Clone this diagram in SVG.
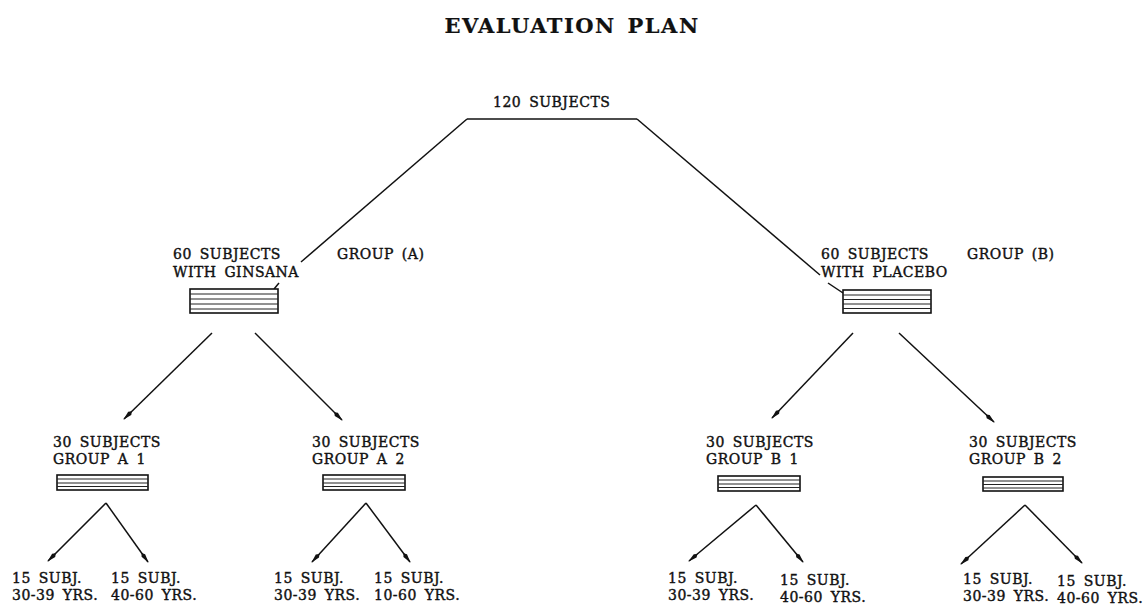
<svg xmlns="http://www.w3.org/2000/svg" width="1144" height="608" viewBox="0 0 1144 608">
<style>
text{font-family:"DejaVu Serif","Liberation Serif",serif;fill:#111;font-size:14px;stroke:#111;stroke-width:0.4;letter-spacing:0.5px;word-spacing:3px}
.title{font-size:21px;font-weight:bold;letter-spacing:1.5px;stroke-width:0.2}
.box{fill:#fff;stroke:#111;stroke-width:1.6}
.stripe{stroke:#222;stroke-width:1;fill:none}
.ln{stroke:#111;stroke-width:1.5;fill:none}
.ar{stroke:#111;stroke-width:1.5;fill:none;marker-end:url(#ah)}
</style>
<defs>
<marker id="ah" markerWidth="12" markerHeight="6" refX="11" refY="3" orient="auto" markerUnits="userSpaceOnUse">
<path d="M0,3 L3,0.8 L12,3 L3,5.2 Z" fill="#111"/>
</marker>
</defs>
<text class="title" x="572" y="33" text-anchor="middle">EVALUATION PLAN</text>

<g id="connectors">
<path class="ln" d="M467,119 L637,119"/>
<path class="ln" d="M467,119 L301,262"/>
<path class="ln" d="M279,283 L274,289"/>
<path class="ln" d="M637,119 L820,275"/>
<path class="ln" d="M828,283 L843,293"/>
<path class="ar" d="M212,333 L124,419"/>
<path class="ar" d="M255,333 L342,420"/>
<path class="ar" d="M853,333 L772,418"/>
<path class="ar" d="M899,333 L994,422"/>
<path class="ar" d="M106,503 L48,561"/>
<path class="ar" d="M106,503 L148,562"/>
<path class="ar" d="M366,503 L312,562"/>
<path class="ar" d="M366,503 L410,562"/>
<path class="ar" d="M756,505 L689,561"/>
<path class="ar" d="M756,505 L803,562"/>
<path class="ar" d="M1025,505 L961,564"/>
<path class="ar" d="M1025,505 L1082,563"/>
</g>

<g id="n120"><text x="493" y="107">120 SUBJECTS</text></g>

<g id="groupA">
<text x="173" y="259">60 SUBJECTS</text>
<text x="173" y="277">WITH GINSANA</text>
<text x="337" y="259">GROUP (A)</text>
<rect class="box" x="190" y="289" width="88" height="24"/>
<path class="stripe" d="M190,294H278M190,299H278M190,304H278M190,309H278"/>
</g>

<g id="groupB">
<text x="821" y="259">60 SUBJECTS</text>
<text x="821" y="277">WITH PLACEBO</text>
<text x="967" y="259">GROUP (B)</text>
<rect class="box" x="843" y="290" width="88" height="23"/>
<path class="stripe" d="M843,295H931M843,299.5H931M843,304H931M843,308.5H931"/>
</g>

<g id="groupA1">
<text x="53" y="447">30 SUBJECTS</text>
<text x="53" y="464">GROUP A 1</text>
<rect class="box" x="57" y="475" width="91" height="15"/>
<path class="stripe" d="M57,479H148M57,483H148M57,486.5H148"/>
</g>

<g id="groupA2">
<text x="312" y="447">30 SUBJECTS</text>
<text x="312" y="464">GROUP A 2</text>
<rect class="box" x="323" y="475" width="82" height="15"/>
<path class="stripe" d="M323,479H405M323,483H405M323,486.5H405"/>
</g>

<g id="groupB1">
<text x="706" y="447">30 SUBJECTS</text>
<text x="706" y="464">GROUP B 1</text>
<rect class="box" x="718" y="476" width="82" height="15"/>
<path class="stripe" d="M718,480H800M718,484H800M718,487.5H800"/>
</g>

<g id="groupB2">
<text x="969" y="447">30 SUBJECTS</text>
<text x="969" y="464">GROUP B 2</text>
<rect class="box" x="983" y="477" width="80" height="14"/>
<path class="stripe" d="M983,481H1063M983,484.5H1063M983,488H1063"/>
</g>

<g id="a1a"><text x="12" y="583">15 SUBJ.</text><text x="12" y="600">30-39 YRS.</text></g>
<g id="a1b"><text x="111" y="583">15 SUBJ.</text><text x="111" y="600">40-60 YRS.</text></g>
<g id="a2a"><text x="274" y="583">15 SUBJ.</text><text x="274" y="600">30-39 YRS.</text></g>
<g id="a2b"><text x="374" y="583">15 SUBJ.</text><text x="374" y="600">10-60 YRS.</text></g>
<g id="b1a"><text x="668" y="583">15 SUBJ.</text><text x="668" y="600">30-39 YRS.</text></g>
<g id="b1b"><text x="780" y="585">15 SUBJ.</text><text x="780" y="602">40-60 YRS.</text></g>
<g id="b2a"><text x="963" y="584">15 SUBJ.</text><text x="963" y="601">30-39 YRS.</text></g>
<g id="b2b"><text x="1057" y="586">15 SUBJ.</text><text x="1057" y="603">40-60 YRS.</text></g>
</svg>
